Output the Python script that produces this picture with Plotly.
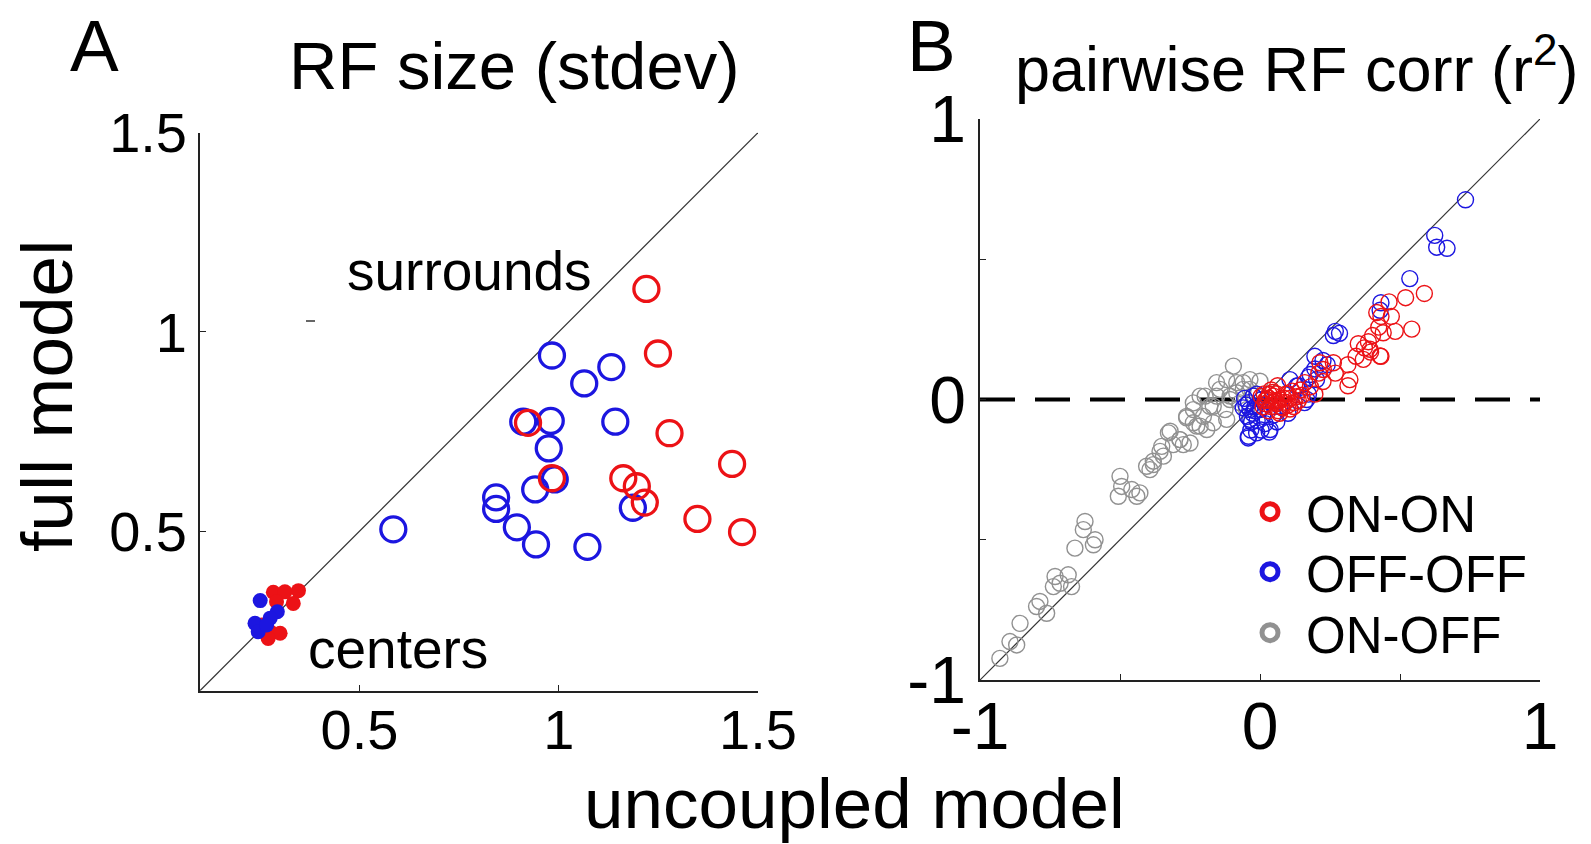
import plotly.graph_objects as go

# ---------------- Panel A: RF size (stdev) ----------------
# surrounds (open circles)
surr_on_x = [1.220, 1.249, 1.278, 1.435, 0.923, 0.983, 1.162, 1.196, 1.216, 1.348, 1.460]
surr_on_y = [1.108, 0.946, 0.746, 0.669, 0.772, 0.633, 0.633, 0.613, 0.572, 0.531, 0.498]
surr_off_x = [0.983, 1.132, 1.064, 0.911, 0.980, 1.142, 0.975, 0.990, 0.941, 0.843,
              0.843, 0.895, 0.943, 1.072, 1.186, 0.585]
surr_off_y = [0.941, 0.912, 0.871, 0.775, 0.777, 0.775, 0.708, 0.630, 0.605, 0.585,
              0.556, 0.510, 0.467, 0.461, 0.559, 0.505]
# centers (filled dots)
cent_on_x = [0.284, 0.313, 0.347, 0.292, 0.334, 0.276, 0.301, 0.271, 0.255]
cent_on_y = [0.347, 0.348, 0.351, 0.323, 0.319, 0.248, 0.244, 0.231, 0.265]
cent_off_x = [0.251, 0.294, 0.276, 0.238, 0.246, 0.267]
cent_off_y = [0.326, 0.298, 0.282, 0.269, 0.248, 0.265]
tick_a = [0.5, 1, 1.5]
tick_a_text = ["0.5", "1", "1.5"]

# ---------------- Panel B: pairwise RF corr (r^2) ----------------
onon_x = [0.587, 0.520, 0.542, 0.461, 0.469, 0.432, 0.483, 0.424, 0.402, 0.387,
          0.373, 0.432, 0.395, 0.351, 0.343, 0.314, 0.321, 0.314, 0.269, 0.262,
          0.210, 0.196, 0.144, 0.122, 0.077, 0.055, 0.033, 0.018, 0.004, 0.040,
          0.092, 0.137, 0.070, 0.107, 0.011, 0.063, 0.225, 0.024, 0.048, 0.060,
          0.085, 0.100, 0.030, 0.045, 0.226, 0.369, 0.393, 0.429, 0.440, 0.417,
          0.214, 0.160, 0.115, 0.180, 0.030, 0.050, 0.070, 0.090, 0.110, 0.020,
          0.060, 0.080, 0.130, 0.040, 0.100, 0.015, 0.120, 0.065, 0.150]
onon_y = [0.378, 0.363, 0.251, 0.348, 0.296, 0.296, 0.243, 0.258, 0.228, 0.206,
          0.184, 0.154, 0.169, 0.199, 0.154, 0.124, 0.071, 0.049, 0.094, 0.131,
          0.094, 0.019, 0.034, -0.011, -0.026, -0.004, 0.019, -0.004, 0.011, 0.034,
          0.019, -0.004, -0.049, -0.034, -0.026, 0.049, 0.064, 0.000, 0.012, -0.015,
          0.005, -0.020, -0.040, 0.025, 0.107, 0.143, 0.179, 0.155, 0.238, 0.310,
          0.131, 0.060, 0.030, 0.045, 0.005, -0.010, 0.000, -0.010, 0.005, -0.015,
          0.020, -0.030, 0.010, -0.025, 0.020, 0.020, -0.025, -0.040, 0.015]

offoff_x = [0.734, 0.624, 0.631, 0.668, 0.535, 0.432, 0.429, 0.269, 0.284, 0.262,
            0.240, 0.196, 0.173, 0.137, 0.107, 0.173, 0.159, 0.100, 0.048, 0.004,
            -0.041, -0.033, 0.033, -0.026, -0.041, -0.055, -0.011, -0.018, 0.018, 0.196,
            0.225, 0.179, 0.202, 0.131, 0.167, 0.071, 0.000, -0.036, -0.042, -0.012,
            0.036, -0.036, -0.024, 0.006, -0.050, -0.045, -0.030, -0.020, -0.060, 0.010,
            -0.010, 0.060]
offoff_y = [0.712, 0.585, 0.543, 0.539, 0.431, 0.345, 0.318, 0.243, 0.236, 0.228,
            0.124, 0.109, 0.079, 0.049, 0.071, 0.019, -0.011, -0.049, -0.056, -0.109,
            -0.131, -0.109, -0.116, -0.049, -0.011, 0.004, 0.019, -0.026, -0.086, 0.154,
            0.139, 0.089, 0.071, 0.048, 0.000, -0.024, -0.036, -0.071, -0.137, -0.119,
            -0.107, -0.036, 0.012, 0.000, -0.020, -0.060, -0.080, -0.040, -0.030, -0.060,
            -0.075, -0.080]

onoff_x = [-0.929, -0.893, -0.869, -0.857, -0.798, -0.786, -0.762, -0.732, -0.714, -0.685,
           -0.738, -0.673, -0.661, -0.625, -0.631, -0.589, -0.595, -0.500, -0.494, -0.506,
           -0.458, -0.429, -0.440, -0.405, -0.381, -0.393, -0.357, -0.327, -0.310, -0.274,
           -0.286, -0.262, -0.238, -0.226, -0.202, -0.196, -0.190, -0.167, -0.143, -0.125,
           -0.107, -0.095, -0.083, -0.071, -0.060, -0.119, -0.238, -0.167, -0.036, -0.024,
           -0.048, -0.321, -0.351, -0.238, -0.214, -0.155, -0.119, -0.060, -0.036, 0.000,
           -0.262, -0.214, -0.179, -0.107, -0.155, -0.286, -0.250, -0.381, -0.345, -0.083]
onoff_y = [-0.923, -0.863, -0.875, -0.798, -0.738, -0.720, -0.762, -0.631, -0.655, -0.625,
           -0.667, -0.667, -0.530, -0.435, -0.464, -0.500, -0.518, -0.274, -0.310, -0.345,
           -0.321, -0.333, -0.345, -0.238, -0.220, -0.250, -0.185, -0.119, -0.161, -0.161,
           -0.143, -0.065, -0.036, -0.095, -0.060, 0.012, -0.107, -0.024, 0.036, -0.036,
           0.012, 0.119, 0.060, -0.012, 0.036, -0.071, -0.083, -0.083, 0.071, 0.012,
           -0.036, -0.113, -0.167, -0.012, 0.012, 0.060, 0.071, 0.060, 0.036, 0.065,
           -0.060, -0.095, -0.024, 0.000, 0.012, -0.143, -0.155, -0.232, -0.202, 0.024]
tick_b = [-1, 0, 1]
tick_b_text = ["-1", "0", "1"]
tick_b_minor = [-0.5, 0.5]

legend_names = ["ON-ON", "OFF-OFF", "ON-OFF"]
RED = "rgb(236,18,22)"
BLUE = "rgb(28,22,224)"
GRAY = "rgb(145,145,145)"
FONT = "Liberation Sans, Arial, Helvetica, sans-serif"

W, H = 1591, 844


def px(x):
    return x / W


def py(y):
    return 1 - y / H


fig = go.Figure()

# panel A markers
fig.add_trace(go.Scatter(x=surr_off_x, y=surr_off_y, mode="markers", showlegend=False,
                         marker=dict(symbol="circle-open", size=25, color=BLUE, line=dict(width=3.3)),
                         xaxis="x", yaxis="y"))
fig.add_trace(go.Scatter(x=surr_on_x, y=surr_on_y, mode="markers", showlegend=False,
                         marker=dict(symbol="circle-open", size=25, color=RED, line=dict(width=3.3)),
                         xaxis="x", yaxis="y"))
fig.add_trace(go.Scatter(x=cent_on_x, y=cent_on_y, mode="markers", showlegend=False,
                         marker=dict(symbol="circle", size=15, color=RED, line=dict(width=0)),
                         xaxis="x", yaxis="y"))
fig.add_trace(go.Scatter(x=cent_off_x, y=cent_off_y, mode="markers", showlegend=False,
                         marker=dict(symbol="circle", size=15, color=BLUE, line=dict(width=0)),
                         xaxis="x", yaxis="y"))

# panel B markers
for xs, ys, col in [(onoff_x, onoff_y, GRAY), (offoff_x, offoff_y, BLUE), (onon_x, onon_y, RED)]:
    fig.add_trace(go.Scatter(x=xs, y=ys, mode="markers", showlegend=False,
                             marker=dict(symbol="circle-open", size=16, color=col, line=dict(width=1.4)),
                             xaxis="x2", yaxis="y2"))

# legend entries, one legend box per row
legend_ids = ["legend", "legend2", "legend3"]
for name, col, lid in zip(legend_names, [RED, BLUE, GRAY], legend_ids):
    fig.add_trace(go.Scatter(x=[None], y=[None], mode="markers", name=name, showlegend=True,
                             legend=lid,
                             marker=dict(symbol="circle-open", size=16, color=col, line=dict(width=5)),
                             xaxis="x2", yaxis="y2"))

axis_common = dict(showline=True, linecolor="#222", linewidth=1.6, ticks="inside", ticklen=6,
                   tickwidth=1.4, tickcolor="#222", showgrid=False, zeroline=False,
                   fixedrange=True, color="black", automargin=False)
minor_b = dict(tickvals=tick_b_minor, ticks="inside", ticklen=6, tickwidth=1.4,
               tickcolor="#222", showgrid=False)


def legend_box(top):
    return dict(x=px(1234), y=py(top), xanchor="left", yanchor="top",
                font=dict(size=51, family=FONT), bgcolor="rgba(0,0,0,0)",
                itemwidth=62, borderwidth=0)


fig.update_layout(
    template="none",
    width=W, height=H, margin=dict(l=0, r=0, t=0, b=0, pad=0),
    paper_bgcolor="white", plot_bgcolor="white",
    font=dict(family=FONT, color="black"),
    xaxis=dict(domain=[px(200), px(758)], range=[0.1, 1.5], tickvals=tick_a,
               ticktext=tick_a_text, tickfont=dict(size=56), ticklabelstandoff=-11,
               anchor="y", **axis_common),
    yaxis=dict(domain=[py(690.7), py(132.7)], range=[0.1, 1.5], tickvals=tick_a,
               ticktext=tick_a_text, tickfont=dict(size=56), ticklabelstandoff=0,
               anchor="x", **axis_common),
    xaxis2=dict(domain=[px(980), px(1540)], range=[-1, 1], tickvals=tick_b,
                ticktext=tick_b_text, tickfont=dict(size=66), ticklabelstandoff=-12,
                minor=minor_b, anchor="y2", **axis_common),
    yaxis2=dict(domain=[py(680), py(119)], range=[-1, 1], tickvals=tick_b,
                ticktext=tick_b_text, tickfont=dict(size=66), ticklabelstandoff=-1,
                minor=minor_b, anchor="x2", **axis_common),
    legend=legend_box(472),
    legend2=legend_box(532),
    legend3=legend_box(593),
    showlegend=True,
)

# identity lines and zero reference
fig.add_shape(type="line", x0=0.1, y0=0.1, x1=1.5, y1=1.5, xref="x", yref="y",
              line=dict(color="#333", width=1.2), layer="below")
fig.add_shape(type="line", x0=-1, y0=-1, x1=1, y1=1, xref="x2", yref="y2",
              line=dict(color="#333", width=1.2), layer="below")
fig.add_shape(type="line", x0=-1, y0=0, x1=1, y1=0, xref="x2", yref="y2",
              line=dict(color="black", width=4, dash="35px,20px"), layer="below")
# small stray mark in panel A
fig.add_shape(type="line", x0=px(306), x1=px(315), y0=py(321), y1=py(321), xref="paper", yref="paper",
              line=dict(color="#333", width=1.5))

ann = [
    dict(text="A", x=px(68), y=py(45), font=dict(size=73)),
    dict(text="B", x=px(905), y=py(45), font=dict(size=73)),
    dict(text="RF size (stdev)", x=px(287), y=py(66), font=dict(size=67)),
    dict(text="pairwise RF corr (r<sup>2</sup>)", x=px(1013), y=py(64), font=dict(size=63)),
    dict(text="surrounds", x=px(345), y=py(271), font=dict(size=55)),
    dict(text="centers", x=px(306), y=py(649), font=dict(size=55)),
]
for a in ann:
    fig.add_annotation(xref="paper", yref="paper", xanchor="left", yanchor="middle",
                       showarrow=False, **a)

fig.add_annotation(text="full model", xref="paper", yref="paper", x=px(46), y=py(396),
                   xanchor="center", yanchor="middle", textangle=-90, showarrow=False,
                   font=dict(size=73))
fig.add_annotation(text="uncoupled model", xref="paper", yref="paper", x=px(855), y=py(803),
                   xanchor="center", yanchor="middle", showarrow=False, font=dict(size=71))

fig.write_html("out.html")
